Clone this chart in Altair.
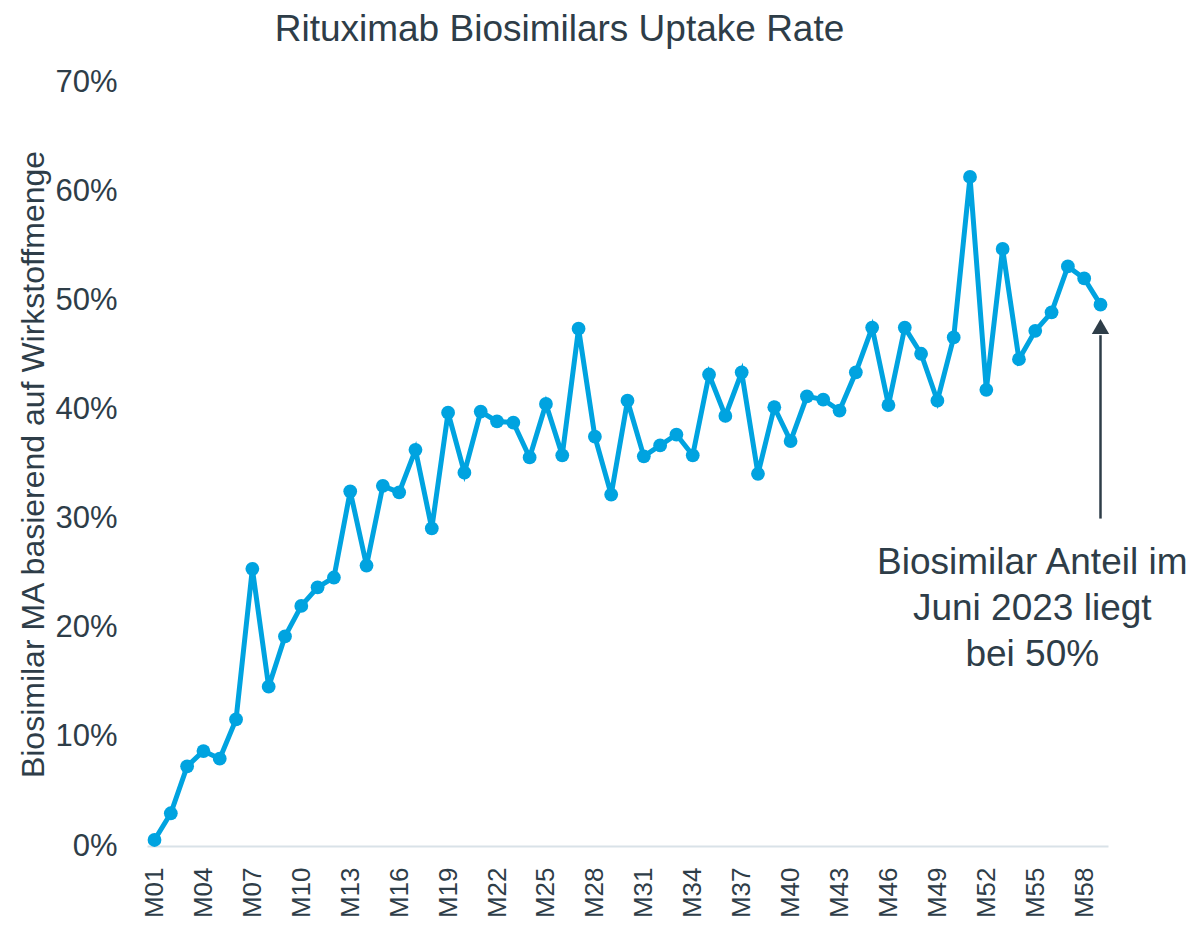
import altair as alt
import pandas as pd

months = [f"M{i:02d}" for i in range(1, 60)]
uptake = [0.55, 3.0, 7.3, 8.7, 8.0, 11.6, 25.4, 14.6, 19.2, 22.0,
          23.7, 24.6, 32.5, 25.7, 33.0, 32.4, 36.3, 29.1, 39.7, 34.2,
          39.8, 38.9, 38.8, 35.6, 40.5, 35.8, 47.4, 37.5, 32.2, 40.8,
          35.7, 36.7, 37.7, 35.8, 43.2, 39.4, 43.4, 34.1, 40.2, 37.1,
          41.2, 40.9, 39.9, 43.4, 47.5, 40.4, 47.5, 45.1, 40.8, 46.6,
          61.3, 41.8, 54.7, 44.6, 47.2, 48.9, 53.1, 52.0, 49.6]
tick_months = months[::3]

annot_lines = ["Biosimilar Anteil im", "Juni 2023 liegt", "bei 50%"]
arrow_month = "M59"
arrow_from = 30.0
arrow_to = 46.8
arrow_head = 47.6
text_month = "M55"
text_y = 25.9

df = pd.DataFrame({"month": months, "value": [v / 100 for v in uptake]})

BLUE = "#00a3e0"
TXT = "#2e3d48"
FONT = "Liberation Sans"

x_enc = alt.X("month:N", sort=months,
              scale=alt.Scale(type="point", padding=0.46),
              axis=alt.Axis(values=tick_months, labelAngle=270, labelFontSize=26,
                            labelColor=TXT, labelFont=FONT, labelPadding=21,
                            ticks=False, domainColor="#d9e2e8", domainWidth=2,
                            grid=False, title=None))
y_enc = alt.Y("value:Q",
              scale=alt.Scale(domain=[0, 0.7], nice=False),
              axis=alt.Axis(format=".0%", values=[0, .1, .2, .3, .4, .5, .6, .7],
                            labelFontSize=31, labelColor=TXT, labelFont=FONT,
                            labelPadding=30, ticks=False, domain=False, grid=False,
                            title="Biosimilar MA basierend auf Wirkstoffmenge",
                            titleFontSize=32, titleFont=FONT, titleColor=TXT,
                            titleFontWeight="normal", titleX=-114, titleY=382,
                            titleBaseline="middle", titleAlign="center"))

line = alt.Chart(df).mark_line(color=BLUE, strokeWidth=5).encode(x=x_enc, y=y_enc)
pts = alt.Chart(df).mark_circle(color=BLUE, size=190, opacity=1).encode(x=x_enc, y=y_enc)

arrow_df = pd.DataFrame({"month": [arrow_month], "y1": [arrow_from / 100],
                         "y2": [arrow_to / 100], "yh": [arrow_head / 100]})
rule = alt.Chart(arrow_df).mark_rule(color=TXT, strokeWidth=2.5).encode(
    x=alt.X("month:N", sort=months), y="y1:Q", y2="y2:Q")
head = alt.Chart(arrow_df).mark_point(shape="triangle-up", filled=True, color=TXT,
                                      size=300, opacity=1).encode(
    x=alt.X("month:N", sort=months), y="yh:Q")

text_df = pd.DataFrame({"month": [text_month], "y": [text_y / 100], "t": [annot_lines]})
txt = alt.Chart(text_df).mark_text(fontSize=37, font=FONT, color=TXT, align="center",
                                   baseline="middle", lineHeight=46, dx=-3).encode(
    x=alt.X("month:N", sort=months), y="y:Q", text="t")

chart = alt.layer(line, pts, rule, head, txt).properties(
    width=961, height=764,
    title=alt.TitleParams("Rituximab Biosimilars Uptake Rate", fontSize=37, font=FONT,
                          color=TXT, fontWeight="normal", anchor="middle", dx=-68,
                          offset=17),
    autosize=alt.AutoSizeParams(type="none"),
    padding={"left": 139, "top": 74, "right": 78, "bottom": 72},
).configure(background="white").configure_view(stroke="transparent", strokeWidth=0)

chart.save("out.html", embed_options={"renderer": "svg", "actions": False})
